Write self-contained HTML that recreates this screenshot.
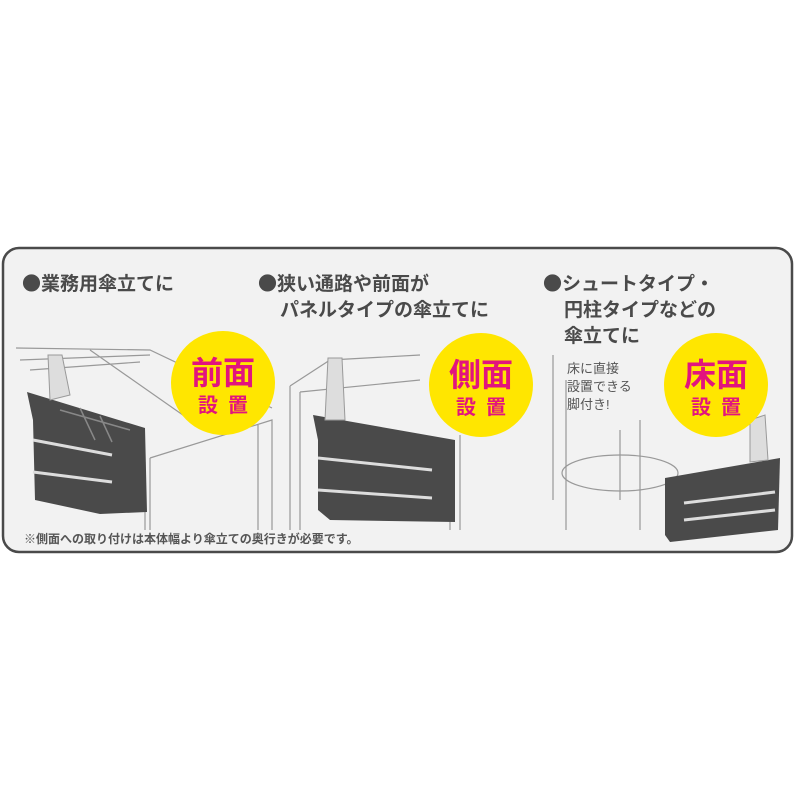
<!DOCTYPE html>
<html><head><meta charset="utf-8"><style>
body{margin:0;background:#fff;width:800px;height:800px;overflow:hidden}
text{font-family:"Liberation Sans","Noto Sans CJK JP",sans-serif;font-weight:bold}
.b{font-family:"Noto Sans CJK JP",sans-serif}
</style></head><body>
<svg width="800" height="800" viewBox="0 0 800 800">
<rect x="3" y="248" width="789" height="304" rx="16" fill="#f2f2f2" stroke="#4a4a4a" stroke-width="2.5"/>
<g fill="#4a4a4a" font-size="19">
<text x="22" y="290"><tspan class="b">●</tspan>業務用傘立てに</text>
<text x="258" y="290"><tspan class="b">●</tspan>狭い通路や前面が</text>
<text x="280" y="316">パネルタイプの傘立てに</text>
<text x="543" y="290"><tspan class="b">●</tspan>シュートタイプ・</text>
<text x="564" y="316">円柱タイプなどの</text>
<text x="564" y="342">傘立てに</text>
</g>
<g font-size="13" fill="#555">
<text x="567" y="373" style="font-weight:normal">床に直接</text>
<text x="567" y="391" style="font-weight:normal">設置できる</text>
<text x="567" y="409" style="font-weight:normal">脚付き!</text>
<text x="24" y="543" font-size="12">※側面への取り付けは本体幅より傘立ての奥行きが必要です。</text>
</g>
<g stroke="#999" stroke-width="1.2" fill="none">
<path d="M16 348 L150 350 L272 408 M20 360 L150 355 M90 350 L190 420 M30 370 L140 362 M150 458 L150 530 M150 458 L272 420 L272 530 M258 425 L258 530 M145 462 L145 530"/>
<path d="M290 386 L330 360 L420 355 M290 386 L290 530 M300 392 L300 530 M300 392 L420 380 M450 440 L450 530 M460 435 L460 530"/>
<path d="M553 355 L553 500 M566 380 L566 530 M620 430 L620 500 M640 420 L640 530"/>
<ellipse cx="620" cy="473" rx="58" ry="18"/>
</g>
<path d="M27 392 L145 428 L147 512 L100 514 L35 500 L33 420 Z" fill="#4a4a4a"/>
<path d="M60 410 L130 430 M80 408 L95 440 M100 416 L112 442" stroke="#888" stroke-width="1.5" fill="none"/>
<path d="M33 440 L112 455 M33 472 L112 482" stroke="#ddd" stroke-width="3" fill="none"/>
<path d="M48 355 L62 355 L70 395 L50 400 Z" fill="#ddd" stroke="#999"/>
<path d="M313 415 L455 440 L455 522 L330 520 L318 510 L318 440 Z" fill="#4a4a4a"/>
<path d="M318 458 L432 470 M318 490 L432 498" stroke="#ddd" stroke-width="3" fill="none"/>
<path d="M328 358 L342 358 L345 420 L325 420 Z" fill="#ddd" stroke="#999"/>
<path d="M665 478 L780 458 L778 530 L670 542 L665 535 Z" fill="#4a4a4a"/>
<path d="M684 503 L775 492 M684 520 L775 510" stroke="#ddd" stroke-width="3" fill="none"/>
<path d="M750 420 L765 415 L768 460 L750 462 Z" fill="#ddd" stroke="#999"/>
<g fill="#ffe600">
<circle cx="223" cy="383" r="52"/>
<circle cx="481" cy="385" r="52"/>
<circle cx="716" cy="385" r="52"/>
</g>
<g fill="#e2147e" text-anchor="middle">
<text x="223" y="384" font-size="32">前面</text>
<text x="228" y="412" font-size="20" letter-spacing="10">設置</text>
<text x="481" y="386" font-size="32">側面</text>
<text x="486" y="414" font-size="20" letter-spacing="10">設置</text>
<text x="716" y="386" font-size="32">床面</text>
<text x="721" y="414" font-size="20" letter-spacing="10">設置</text>
</g>
</svg>
</body></html>
